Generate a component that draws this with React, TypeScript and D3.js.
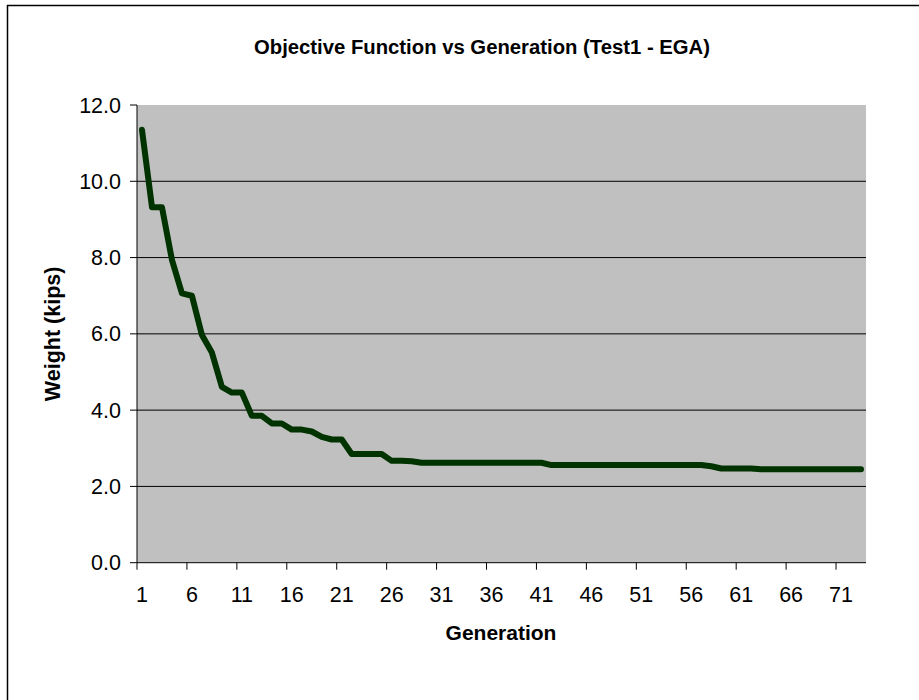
import React from "react";
import * as d3 from "d3";

const generations: number[] = Array.from({ length: 73 }, (_, i) => i + 1);
const weights: number[] = [
  11.35, 9.32, 9.32, 7.94, 7.06, 7.0, 5.97, 5.51, 4.61, 4.46,
  4.46, 3.85, 3.85, 3.65, 3.65, 3.49, 3.49, 3.44, 3.3, 3.23,
  3.23, 2.85, 2.85, 2.85, 2.85, 2.67, 2.67, 2.66, 2.62, 2.62,
  2.62, 2.62, 2.62, 2.62, 2.62, 2.62, 2.62, 2.62, 2.62, 2.62,
  2.62, 2.56, 2.56, 2.56, 2.56, 2.56, 2.56, 2.56, 2.56, 2.56,
  2.56, 2.56, 2.56, 2.56, 2.56, 2.56, 2.56, 2.53, 2.47, 2.47,
  2.47, 2.47, 2.45, 2.45, 2.45, 2.45, 2.45, 2.45, 2.45, 2.45,
  2.45, 2.45, 2.45,
];
const yTicks: number[] = [0, 2, 4, 6, 8, 10, 12];
const xTickLabels: number[] = [1, 6, 11, 16, 21, 26, 31, 36, 41, 46, 51, 56, 61, 66, 71];

const title = "Objective Function vs Generation (Test1 - EGA)";
const xTitle = "Generation";
const yTitle = "Weight (kips)";

export default function App() {
  const W = 919, H = 700;
  const left = 137, right = 866, top = 105, bottom = 562.7;
  const font = "Arial, 'Liberation Sans', sans-serif";

  const x = d3.scaleBand<number>().domain(generations).range([left, right]).padding(0);
  const y = d3.scaleLinear().domain([0, 12]).range([bottom, top]);
  const line = d3
    .line<number>()
    .x((_, i) => (x(generations[i]) as number) + x.bandwidth() / 2)
    .y((d) => y(d));

  return (
    <div style={{ position: "absolute", left: 0, top: 0 }}>
      <svg width={W} height={H} style={{ display: "block", background: "#fff" }}>
        <line x1={7.5} y1={5} x2={7.5} y2={H} stroke="#000" strokeWidth={1.5} />
        <line x1={7} y1={5.5} x2={W} y2={5.5} stroke="#000" strokeWidth={1.5} />
        <rect x={left} y={top} width={right - left} height={bottom - top} fill="#C0C0C0" />
        {yTicks
          .filter((t) => t > 0 && t < 12)
          .map((t) => (
            <line key={"g" + t} x1={left} x2={right} y1={y(t)} y2={y(t)} stroke="#000" strokeWidth={1} />
          ))}
        <line x1={left} x2={left} y1={top} y2={bottom} stroke="#000" strokeWidth={1} />
        <line x1={left} x2={right} y1={bottom} y2={bottom} stroke="#000" strokeWidth={1} />
        {yTicks.map((t) => (
          <g key={"y" + t}>
            <line x1={left - 7} x2={left} y1={y(t)} y2={y(t)} stroke="#000" strokeWidth={1} />
            <text x={121} y={y(t)} dy="0.35em" textAnchor="end" fontFamily={font} fontSize={21.5} fill="#000">
              {t.toFixed(1)}
            </text>
          </g>
        ))}
        {xTickLabels.map((g) => {
          const bx = x(g) as number;
          return (
            <g key={"x" + g}>
              <line x1={bx} x2={bx} y1={bottom} y2={bottom + 7} stroke="#000" strokeWidth={1} />
              <text x={bx + x.bandwidth() / 2} y={602} textAnchor="middle" fontFamily={font} fontSize={21.5} fill="#000">
                {g}
              </text>
            </g>
          );
        })}
        <path d={line(weights) || ""} fill="none" stroke="#003300" strokeWidth={6} strokeLinejoin="round" strokeLinecap="round" />
        <text x={482} y={54} textAnchor="middle" fontFamily={font} fontSize={20.3} fontWeight="bold" fill="#000">
          {title}
        </text>
        <text x={501} y={640} textAnchor="middle" fontFamily={font} fontSize={21} fontWeight="bold" fill="#000">
          {xTitle}
        </text>
        <text
          transform={`translate(60, ${(top + bottom) / 2}) rotate(-90)`}
          textAnchor="middle"
          fontFamily={font}
          fontSize={21.5}
          fontWeight="bold"
          fill="#000"
        >
          {yTitle}
        </text>
      </svg>
    </div>
  );
}
